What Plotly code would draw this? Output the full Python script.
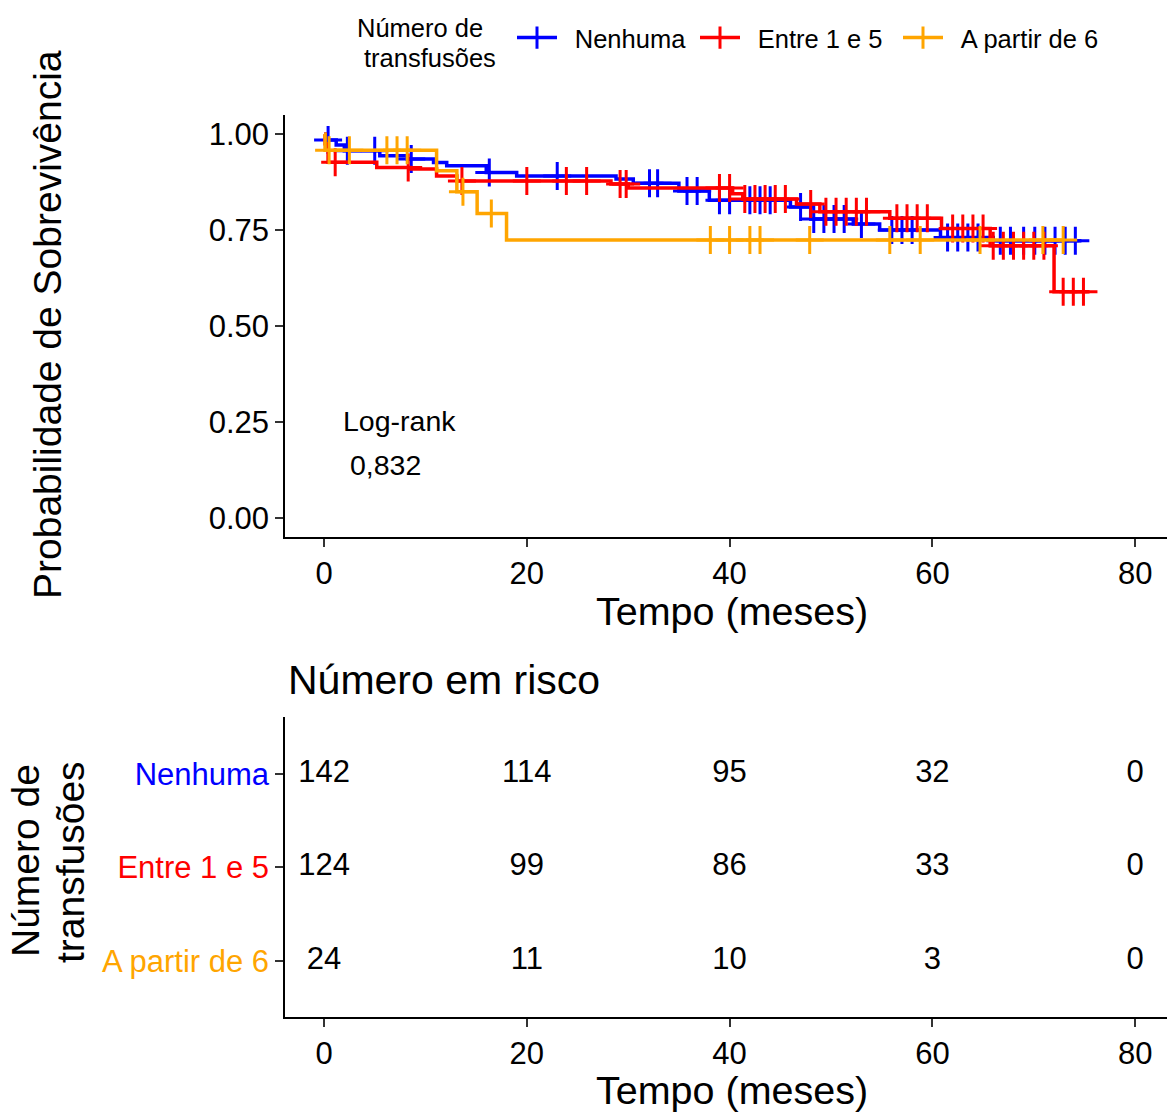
import plotly.graph_objects as go
import numpy as np

# ---------------- data ----------------
groups = ["Nenhuma", "Entre 1 e 5", "A partir de 6"]
colors = ["#0000FF", "#FF0000", "#FFA500"]

# Kaplan-Meier step functions (time in months, survival probability)
nenhuma_t = [0, 0.3, 1.2, 2.0, 5.5, 8.2, 10.8, 12.1, 16.0, 19.0, 28.8, 30.5, 35.0, 38.0, 46.0, 48.0, 52.2, 54.8, 60.8, 66.0, 74.7]
nenhuma_s = [1.0, 0.985, 0.972, 0.957, 0.944, 0.935, 0.926, 0.918, 0.900, 0.891, 0.883, 0.872, 0.852, 0.828, 0.810, 0.779, 0.766, 0.750, 0.731, 0.722, 0.722]

entre_t = [0, 0.1, 0.4, 5.2, 8.5, 11.1, 13.1, 28.3, 30.0, 40.3, 41.3, 46.6, 48.9, 55.8, 60.9, 65.7, 72.0, 75.5]
entre_s = [1.0, 0.975, 0.927, 0.913, 0.909, 0.891, 0.878, 0.870, 0.860, 0.845, 0.831, 0.818, 0.798, 0.781, 0.754, 0.709, 0.589, 0.589]

apartir_t = [0, 0.1, 11.1, 13.1, 15.1, 18.0, 73.0]
apartir_s = [1.0, 0.958, 0.905, 0.850, 0.793, 0.724, 0.724]

# censoring times
nenhuma_c = [0.4, 2.3, 5.0, 8.6, 16.3, 23.0, 32.1, 32.9, 35.8, 36.8, 39.0, 40.0, 42.0, 43.0, 44.0,
             47.0, 48.3, 49.3, 50.3, 51.3, 53.0, 56.0, 57.0, 58.0, 61.5, 62.5, 63.5, 64.5,
             66.7, 67.7, 69.0, 70.1, 71.1, 72.1, 73.1, 74.1]
entre_c = [1.1, 8.3, 13.6, 20.0, 23.9, 25.9, 29.2, 29.8, 39.0, 40.0, 41.5, 42.5, 43.5, 44.5, 45.5,
           48.0, 49.5, 50.5, 51.5, 52.5, 53.5, 56.5, 57.5, 58.5, 59.5, 62.0, 63.0, 64.0, 65.0,
           66.0, 67.0, 68.0, 69.0, 70.0, 71.0, 72.9, 73.9, 74.9]
apartir_c = [0.5, 2.5, 6.2, 7.2, 8.2, 13.7, 16.5, 38.1, 40.0, 42.0, 43.0, 47.9, 55.8, 58.8, 64.7, 70.9, 72.9]

# number at risk table
risk_times = [0, 20, 40, 60, 80]
risk_nenhuma = [142, 114, 95, 32, 0]
risk_entre = [124, 99, 86, 33, 0]
risk_apartir = [24, 11, 10, 3, 0]

x_ticks = [0, 20, 40, 60, 80]
y_ticks = [0, 0.25, 0.5, 0.75, 1.0]
pval_label = "Log-rank"
pval_text = "0,832"

# ---------------- figure ----------------
W, H = 1167, 1112
FONT = "Liberation Sans, Arial, sans-serif"


def px_x(p):
    return p / W


def px_y(p):
    return 1 - p / H


def step_value(ts, ss, t):
    idx = np.searchsorted(np.array(ts), t, side="right") - 1
    return ss[max(idx, 0)]


fig = go.Figure()

curves = [
    (nenhuma_t, nenhuma_s, nenhuma_c),
    (entre_t, entre_s, entre_c),
    (apartir_t, apartir_s, apartir_c),
]

for (ts, ss, cs), name, col in zip(curves, groups, colors):
    fig.add_trace(go.Scatter(
        x=ts, y=ss, mode="lines", line=dict(color=col, width=3.5, shape="hv"),
        showlegend=False, hoverinfo="skip", xaxis="x", yaxis="y"))
    fig.add_trace(go.Scatter(
        x=cs, y=[step_value(ts, ss, c) for c in cs], mode="markers",
        marker=dict(symbol="cross-thin", size=20, line=dict(color=col, width=3)),
        showlegend=False, hoverinfo="skip", xaxis="x", yaxis="y"))

# legend entries (one legend per group so each can be placed)
legend_names = ["legend", "legend2", "legend3"]
legend_starts = [520, 703, 906]
for name, col, lg in zip(groups, colors, legend_names):
    fig.add_trace(go.Scatter(
        x=[None], y=[None], mode="lines+markers", name="\u2002" + name, legend=lg,
        line=dict(color=col, width=3.5),
        marker=dict(symbol="cross-thin", size=20, line=dict(color=col, width=3)),
        xaxis="x", yaxis="y"))

# risk table
risk_rows = [risk_nenhuma, risk_entre, risk_apartir]
row_pos = [3, 2, 1]
for vals, pos in zip(risk_rows, row_pos):
    fig.add_trace(go.Scatter(
        x=risk_times, y=[pos] * len(risk_times), mode="text",
        text=[str(v) for v in vals], textposition="middle center",
        textfont=dict(size=31, color="black", family=FONT),
        showlegend=False, hoverinfo="skip", xaxis="x2", yaxis="y2"))

x_range = [-3.85, 83.14]
axis_common = dict(
    showline=True, linecolor="black", linewidth=1.5, ticks="outside",
    ticklen=8, tickwidth=1.5, tickcolor="#333333", showgrid=False, zeroline=False,
    tickfont=dict(size=31, color="black", family=FONT),
)

legend_common = dict(
    orientation="h", yanchor="middle", xanchor="left",
    font=dict(size=25.5, family=FONT, color="black"),
    itemwidth=40, bgcolor="rgba(0,0,0,0)", borderwidth=0,
)

fig.update_layout(
    width=W, height=H,
    margin=dict(l=0, r=0, t=0, b=0),
    paper_bgcolor="white", plot_bgcolor="white",
    font=dict(family=FONT, color="black"),
    xaxis=dict(domain=[px_x(285), 1], range=x_range, tickvals=x_ticks, anchor="y", **axis_common),
    yaxis=dict(domain=[px_y(537), px_y(115)], range=[-0.05, 1.05], tickvals=y_ticks,
               tickformat=".2f", anchor="x", **axis_common),
    xaxis2=dict(domain=[px_x(285), 1], range=x_range, tickvals=x_ticks, anchor="y2", **axis_common),
    yaxis2=dict(domain=[px_y(1017), px_y(717)], range=[0.4, 3.61], tickvals=row_pos,
                ticktext=[f"<span style='color:{c}'>{g}</span>" for g, c in zip(groups, colors)],
                anchor="x2", **axis_common),
    showlegend=True,
)
for lg, xs in zip(legend_names, legend_starts):
    fig.update_layout({lg: dict(x=px_x(xs - 8), y=px_y(38), **legend_common)})

annotations = [
    dict(text="Número de", x=px_x(420), y=px_y(28), font=dict(size=25.5)),
    dict(text="transfusões", x=px_x(430), y=px_y(58), font=dict(size=25.5)),
    dict(text="Probabilidade de Sobrevivência", x=px_x(47), y=px_y(325), textangle=-90,
         font=dict(size=39)),
    dict(text="Tempo (meses)", x=px_x(732), y=px_y(611), font=dict(size=39.5)),
    dict(text="Número em risco", x=px_x(286), y=px_y(680), xanchor="left", font=dict(size=41)),
    dict(text="Tempo (meses)", x=px_x(732), y=px_y(1090), font=dict(size=39.5)),
    dict(text="Número de", x=px_x(25), y=px_y(861), textangle=-90, font=dict(size=39)),
    dict(text="transfusões", x=px_x(70), y=px_y(862), textangle=-90, font=dict(size=39)),
    dict(text=pval_label, x=px_x(341), y=px_y(421), xanchor="left", font=dict(size=28.5)),
    dict(text=pval_text, x=px_x(348), y=px_y(465), xanchor="left", font=dict(size=28.5)),
]
for a in annotations:
    a.setdefault("xanchor", "center")
    a.setdefault("yanchor", "middle")
    a.update(xref="paper", yref="paper", showarrow=False)
    a["font"] = dict(family=FONT, color="black", **a["font"])
fig.update_layout(annotations=annotations)

fig.write_html("out.html", config={"displayModeBar": False},
               post_script="document.body.style.margin='0';document.body.style.overflow='hidden';")
